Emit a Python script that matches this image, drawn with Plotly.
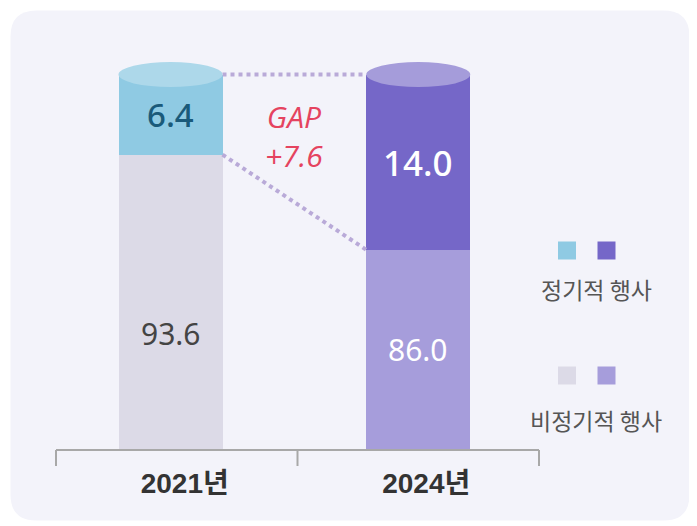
import plotly.graph_objects as go

# ---- data ----
years = ["2021년", "2024년"]
regular = [6.4, 14.0]        # 정기적 행사
irregular = [93.6, 86.0]     # 비정기적 행사
legend_labels = ["정기적 행사", "비정기적 행사"]

# ---- layout constants (page pixels; figure sits at body offset OX, OY) ----
OX, OY = 8, 8
W, H = 689, 518
PL, PR, PT, PB = 56, 539, 12, 450   # plot area edges in page pixels
ML, MT = PL - OX, PT - OY
MR, MB = W - (PR - OX), H - (PB - OY)
PW = PR - PL
PH = PB - PT
Y_MIN, Y_MAX = 70, 105
X_MIN, X_MAX = -0.5, 1.5
IRR_LABEL_Y = [79.3, 78.0]   # label placement (axis units) inside the lower segments


def px(x):
    return (x - PL) / PW


def py(y):
    return (PB - y) / PH


BAR_W = 104 / PW * (X_MAX - X_MIN)
shift = [-6.25 / PW * (X_MAX - X_MIN), 0.0]
xs = [0, 1]
centers = [x + s for x, s in zip(xs, shift)]
offsets = [-BAR_W / 2 + s for s in shift]

col_reg = ["#8FCAE3", "#7567C8"]
col_irr = ["#DCDAE7", "#A69DDB"]
col_cap = ["#ADD8EA", "#A59CDA"]
val_col_reg = ["#1A5A7A", "#FFFFFF"]
val_col_irr = ["#444444", "#FFFFFF"]
dot_col = "#B9AAD8"
gap_col = "#E5435F"

totals = [r + i for r, i in zip(regular, irregular)]

fig = go.Figure()
fig.add_trace(go.Bar(x=xs, y=irregular, width=BAR_W, offset=offsets,
                     marker=dict(color=col_irr, line=dict(width=0)),
                     hoverinfo="skip", showlegend=False))
fig.add_trace(go.Bar(x=xs, y=regular, width=BAR_W, offset=offsets,
                     marker=dict(color=col_reg, line=dict(width=0)),
                     hoverinfo="skip", showlegend=False))

edge_x = [centers[0] + BAR_W / 2, centers[1] - BAR_W / 2]
for yy in (totals, irregular):
    fig.add_trace(go.Scatter(x=edge_x, y=yy, mode="lines",
                             line=dict(color=dot_col, width=4, dash="dot"),
                             hoverinfo="skip", showlegend=False, cliponaxis=False))

shapes = []
# background panel (rounded)
x0, y0, x1, y1, r = 10.5, 10.5, 689.5, 520.5, 26


def P(x, y):
    return f"{px(x):.5f},{py(y):.5f}"


path = (f"M {P(x0 + r, y0)} L {P(x1 - r, y0)} Q {P(x1, y0)} {P(x1, y0 + r)} "
        f"L {P(x1, y1 - r)} Q {P(x1, y1)} {P(x1 - r, y1)} "
        f"L {P(x0 + r, y1)} Q {P(x0, y1)} {P(x0, y1 - r)} "
        f"L {P(x0, y0 + r)} Q {P(x0, y0)} {P(x0 + r, y0)} Z")
shapes.append(dict(type="path", path=path, xref="paper", yref="paper",
                   fillcolor="#F3F3FA", line=dict(width=0), layer="below"))

# cylinder caps
for c, col, t in zip(centers, col_cap, totals):
    shapes.append(dict(type="circle", xref="x", yref="y", ysizemode="pixel",
                       yanchor=t, y0=-12.5, y1=12.5,
                       x0=c - BAR_W / 2, x1=c + BAR_W / 2,
                       fillcolor=col, line=dict(width=0)))

# axis baseline & ticks
AX = "#A8A8A8"
shapes.append(dict(type="line", xref="paper", yref="paper", x0=0, x1=1, y0=0, y1=0,
                   line=dict(color=AX, width=2)))
for tx in (0, 0.5, 1):
    shapes.append(dict(type="line", xref="paper", yref="paper", x0=tx, x1=tx,
                       y0=0, y1=py(466), line=dict(color=AX, width=2)))

# legend squares
leg_rows = [250.5, 375.5]
leg_cols = [567, 606.5]
leg_colors = [[col_reg[0], col_reg[1]], [col_irr[0], col_irr[1]]]
for ry, cols in zip(leg_rows, leg_colors):
    for cx, col in zip(leg_cols, cols):
        shapes.append(dict(type="rect", xref="paper", yref="paper",
                           x0=px(cx - 9), x1=px(cx + 9), y0=py(ry + 9), y1=py(ry - 9),
                           fillcolor=col, line=dict(width=0)))

annotations = []
VAL_FONT = "Noto Sans, Lato, sans-serif"
# value labels
for c, r_, i_, t, cr, ci, rs, ly in zip(centers, regular, irregular, totals,
                                        val_col_reg, val_col_irr, [33, 35], IRR_LABEL_Y):
    annotations.append(dict(x=c, y=(i_ + t) / 2, xref="x", yref="y", text=f"{r_:.1f}",
                            showarrow=False, xanchor="center", yanchor="middle",
                            font=dict(family=VAL_FONT, size=rs, color=cr, weight=500)))
    annotations.append(dict(x=c, y=ly, xref="x", yref="y", text=f"{i_:.1f}",
                            showarrow=False, xanchor="center", yanchor="middle",
                            font=dict(family=VAL_FONT, size=30, color=ci, weight=400)))

gap = regular[1] - regular[0]
annotations.append(dict(x=px(294), y=py(136), xref="paper", yref="paper",
                        text=f"<i>GAP</i><br><i>+{gap:.1f}</i>",
                        showarrow=False, xanchor="center", yanchor="middle",
                        font=dict(family="Open Sans, Noto Sans, sans-serif", size=30, color=gap_col)))

for ty, lab in zip([289, 420], legend_labels):
    annotations.append(dict(x=px(596), y=py(ty), xref="paper", yref="paper", text=lab,
                            showarrow=False, xanchor="center", yanchor="middle",
                            font=dict(family="Noto Sans CJK KR", size=23, color="#555555")))

fig.update_layout(
    width=W, height=H,
    margin=dict(l=ML, r=MR, t=MT, b=MB, pad=0),
    paper_bgcolor="#FFFFFF", plot_bgcolor="rgba(0,0,0,0)",
    barmode="stack", bargap=0,
    shapes=shapes, annotations=annotations,
    xaxis=dict(range=[X_MIN, X_MAX], tickmode="array", tickvals=xs, ticktext=years,
               showgrid=False, zeroline=False, showline=False, ticks="",
               ticklabelshift=8, ticklabelstandoff=14,
               tickfont=dict(family="Liberation Sans, Arial, Noto Sans CJK KR", size=28,
                             color="#333333", weight=700),
               fixedrange=True),
    yaxis=dict(range=[Y_MIN, Y_MAX], visible=False, fixedrange=True),
    showlegend=False,
)

fig.write_html("out.html")
